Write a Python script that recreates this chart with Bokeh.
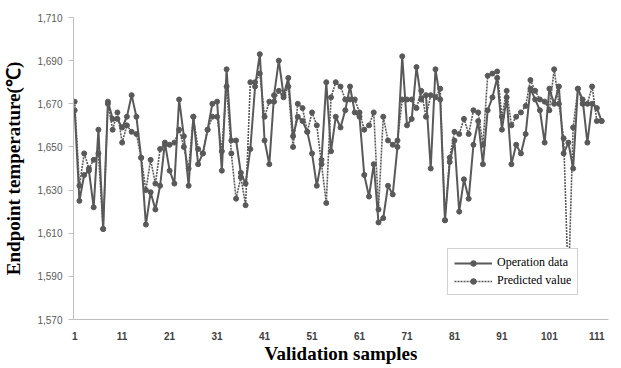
from bokeh.plotting import figure
from bokeh.models import (FixedTicker, NumeralTickFormatter, Range1d, Legend,
                          LegendItem, ColumnDataSource)
from bokeh.embed import file_html
from bokeh.resources import INLINE

samples = list(range(1, 113))

operation = [
    1667, 1625, 1637, 1639, 1622, 1658, 1612, 1671, 1663, 1663,
    1659, 1664, 1674, 1664, 1645, 1614, 1629, 1621, 1632, 1652,
    1639, 1633, 1672, 1655, 1632, 1664, 1642, 1647, 1658, 1670,
    1671, 1639, 1686, 1653, 1653, 1638, 1633, 1649, 1678, 1693,
    1653, 1642, 1674, 1690, 1674, 1682, 1655, 1664, 1662, 1657,
    1647, 1632, 1644, 1680, 1648, 1664, 1659, 1667, 1678, 1666,
    1664, 1637, 1627, 1642, 1615, 1617, 1632, 1628, 1650, 1692,
    1660, 1663, 1687, 1672, 1674, 1640, 1686, 1672, 1616, 1643,
    1653, 1620, 1635, 1626, 1651, 1662, 1642, 1667, 1673, 1682,
    1658, 1673, 1642, 1651, 1647, 1656, 1677, 1672, 1667, 1652,
    1677, 1670, 1678, 1647, 1652, 1640, 1677, 1672, 1652, 1670,
    1668, 1662]

predicted = [
    1671, 1632, 1647, 1640, 1644, 1647, 1612, 1670, 1658, 1666,
    1652, 1660, 1657, 1656, 1645, 1630, 1644, 1633, 1649, 1651,
    1651, 1652, 1658, 1650, 1640, 1664, 1649, 1647, 1658, 1664,
    1664, 1648, 1678, 1647, 1626, 1636, 1623, 1680, 1680, 1684,
    1664, 1671, 1671, 1676, 1673, 1678, 1650, 1670, 1668, 1657,
    1666, 1660, 1642, 1624, 1673, 1680, 1678, 1672, 1672, 1672,
    1666, 1658, 1660, 1666, 1621, 1664, 1653, 1651, 1653, 1672,
    1672, 1672, 1668, 1676, 1664, 1674, 1673, 1677, 1616, 1645,
    1657, 1656, 1663, 1656, 1667, 1666, 1651, 1683, 1684, 1685,
    1664, 1676, 1660, 1664, 1666, 1669, 1681, 1676, 1672, 1671,
    1667, 1686, 1670, 1654, 1585, 1659, 1677, 1670, 1670, 1678,
    1662, 1662]

x_ticks = [1, 11, 21, 31, 41, 51, 61, 71, 81, 91, 101, 111]
y_ticks = [1570, 1590, 1610, 1630, 1650, 1670, 1690, 1710]

src = ColumnDataSource(dict(x=samples, op=operation, pr=predicted))

p = figure(width=613, height=366, output_backend="svg", toolbar_location=None,
           x_range=Range1d(0.75, 113.45), y_range=Range1d(1570, 1710),
           min_border_left=73, min_border_right=5, min_border_top=17,
           min_border_bottom=44)
p.outline_line_color = None
p.xgrid.grid_line_color = None
p.ygrid.grid_line_color = None
p.background_fill_color = "white"

col = "#595959"
l1 = p.line("x", "op", source=src, line_color=col, line_width=2)
s1 = p.scatter("x", "op", source=src, size=5, fill_color=col, line_color=col)
l2 = p.line("x", "pr", source=src, line_color=col, line_width=1.6, line_dash="2 1")
s2 = p.scatter("x", "pr", source=src, size=5, fill_color=col, line_color=col)

# axes
p.xaxis.ticker = FixedTicker(ticks=x_ticks)
p.yaxis.ticker = FixedTicker(ticks=y_ticks)
p.yaxis.formatter = NumeralTickFormatter(format="0,0")
for ax in (p.xaxis[0], p.yaxis[0]):
    ax.axis_line_color = "#bfbfbf"
    ax.major_tick_line_color = "#bfbfbf"
    ax.minor_tick_line_color = None
    ax.major_label_text_font = "Liberation Sans"
    ax.major_label_text_font_size = "10px"
    ax.axis_label_text_font = "Liberation Serif"
    ax.axis_label_text_font_style = "bold"
    ax.axis_label_text_color = "black"
p.xaxis.major_tick_out = 0
p.xaxis.major_tick_in = 0
p.xaxis.major_label_standoff = 12
p.xaxis.major_label_text_font_style = "bold"
p.xaxis.major_label_text_color = "#404040"
p.xaxis.axis_label = "Validation samples"
p.xaxis.axis_label_text_font_size = "19px"
p.xaxis.axis_label_standoff = 0

p.yaxis.major_tick_out = 5
p.yaxis.major_tick_in = 0
p.yaxis.major_label_standoff = 6
p.yaxis.major_label_text_color = "#595959"
p.yaxis.axis_label = "Endpoint temperature(℃)"
p.yaxis.axis_label_text_font_size = "19px"
p.yaxis.axis_label_standoff = 10

legend = Legend(items=[
    LegendItem(label="Operation data", renderers=[l1, s1]),
    LegendItem(label="Predicted value", renderers=[l2, s2]),
], location=(374, 24))
legend.label_text_font = "Liberation Serif"
legend.label_text_font_size = "12px"
legend.label_text_color = "black"
legend.border_line_color = "#a6a6a6"
legend.border_line_width = 1
legend.background_fill_color = "white"
legend.background_fill_alpha = 1
legend.glyph_width = 38
legend.glyph_height = 14
legend.label_height = 14
legend.label_standoff = 5
legend.padding = 6
legend.spacing = 3
legend.margin = 0
p.add_layout(legend, "center")

open("out.html", "w").write(file_html(p, INLINE))
